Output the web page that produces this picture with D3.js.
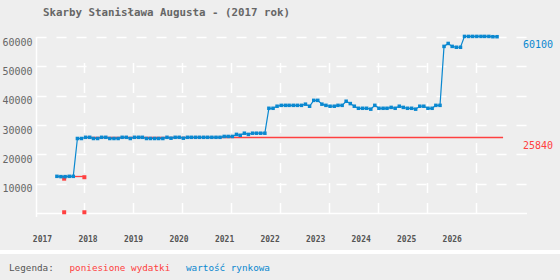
<!DOCTYPE html>
<html>
<head>
<meta charset="utf-8">
<script src="https://cdn.jsdelivr.net/npm/d3@7"></script>
<style>
  body { margin: 0; background: #eeeeee; }
  text { font-family: "DejaVu Sans Mono", monospace; }
</style>
</head>
<body>
<script>
var svg_width = 560;
var svg_height = 280;

var title = "Skarby Stanisława Augusta - (2017 rok)";

// monthly market value ("wartość rynkowa"), from June 2017
var valueStart = new Date(2017, 5, 10);
var marketValues = [
  12500, 12400, 12400, 12500, 12500,
  25400, 25400, 25800, 25800, 25400, 25400, 25800, 25800, 25400, 25400, 25400, 25800,
  25800, 25400, 25800, 25800, 25800, 25400, 25400, 25400, 25400, 25400, 25800,
  25500, 25800, 25800, 25500, 25800, 25800, 25800, 25800, 25800, 25800, 25800, 25800, 25800,
  26100, 26100, 26100, 26800, 26500, 27200, 26800, 27200, 27200, 27200, 27200,
  35700, 35700, 36400, 36700, 36700, 36700, 36700, 36700, 36700, 37100, 36400,
  38400, 38400, 37100, 36700, 36400, 36400, 36700, 36700, 38100, 37300, 36400,
  35700, 35700, 35700, 35400, 36700, 35700, 35700, 35700, 36000, 35700, 36400,
  36000, 35700, 35700, 35400, 36400, 36400, 35700, 35700, 36700, 36700,
  56800, 57800, 56800, 56500, 56500,
  60200, 60200, 60200, 60200, 60200, 60200, 60200, 60100, 60100
];

// expenses ("poniesione wydatki")
var costSteps = [
  [["2017-06-10", 12500], ["2018-01-01", 12500]],
  [["2018-01-01", 25840], ["2026-07-25", 25840]]
];
var costPoints = [["2017-08-03", 11700], ["2018-01-01", 12200], ["2017-08-03", 250], ["2018-01-01", 250]];
var costLabel = 25840;

var yTicks = [10000, 20000, 30000, 40000, 50000, 60000];
var years = [2017, 2018, 2019, 2020, 2021, 2022, 2023, 2024, 2025, 2026];

var blue = "#0a88d0";
var red = "#ff4040";

var parse = d3.timeParse("%Y-%m-%d");

var valueData = marketValues.map(function(v, i) {
  return { date: d3.timeMonth.offset(valueStart, i), value: v };
});

var svg = d3.select("body")
  .append("svg")
  .attr("width", svg_width)
  .attr("height", svg_height);

var x = d3.scaleTime()
  .domain([new Date(2017, 0, 1), new Date(2027, 0, 1)])
  .range([35.5, 524.5]);
var y = d3.scaleLinear().domain([0, 60000]).range([213, 37]);
var xLabel = d3.scalePoint().domain(years).range([42.5, 452.2]);

var gridRight = 527;
var vTop = y(60000) + 26;

// title
svg.append("text")
  .attr("x", 43).attr("y", 15.5)
  .style("font-size", "10.8px").style("font-weight", "bold")
  .attr("fill", "#666")
  .text(title);

// grid
svg.append("g").selectAll("line")
  .data(yTicks).enter().append("line")
  .attr("x1", 36.5).attr("x2", gridRight)
  .attr("y1", d => Math.round(y(d)) + 0.5).attr("y2", d => Math.round(y(d)) + 0.5)
  .attr("stroke", "#fff").attr("stroke-width", 1.5)
  .attr("stroke-dasharray", "10,10");

svg.append("g").selectAll("line")
  .data(years.slice(1)).enter().append("line")
  .attr("x1", d => Math.round(x(new Date(d, 0, 1))) + 0.5)
  .attr("x2", d => Math.round(x(new Date(d, 0, 1))) + 0.5)
  .attr("y1", vTop).attr("y2", y(0) + 4)
  .attr("stroke", "#fff").attr("stroke-width", 1.5)
  .attr("stroke-dasharray", "10,10");

// axes lines
svg.append("line")
  .attr("x1", 36.5).attr("x2", 36.5).attr("y1", y(60000)).attr("y2", y(0) + 4)
  .attr("stroke", "#fff").attr("stroke-width", 1.5);
svg.append("line")
  .attr("x1", 36.5).attr("x2", gridRight).attr("y1", y(0) + 0.5).attr("y2", y(0) + 0.5)
  .attr("stroke", "#fff").attr("stroke-width", 1.5);

// y tick labels
svg.append("g").selectAll("text")
  .data(yTicks).enter().append("text")
  .attr("x", 32.5).attr("y", d => y(d) + 8.5)
  .attr("text-anchor", "end")
  .style("font-size", "10px")
  .attr("fill", "#666")
  .text(d => d);

// x labels
svg.append("g").selectAll("text")
  .data(years).enter().append("text")
  .attr("x", d => xLabel(d)).attr("y", 241.5)
  .attr("text-anchor", "middle")
  .style("font-size", "8px").style("font-weight", "bold")
  .attr("fill", "#555")
  .text(d => d);

// expenses line
var costLine = d3.line()
  .x(d => x(parse(d[0])))
  .y(d => Math.round(y(d[1])) + 0.5);

svg.append("g").selectAll("path")
  .data(costSteps).enter().append("path")
  .attr("d", costLine)
  .attr("fill", "none")
  .attr("stroke", red).attr("stroke-width", 1.3);

svg.append("g").selectAll("rect")
  .data(costPoints).enter().append("rect")
  .attr("x", d => x(parse(d[0])) - 2)
  .attr("y", d => y(d[1]) - 2)
  .attr("width", 4).attr("height", 4)
  .attr("fill", red);

// market value line
var valueLine = d3.line()
  .x(d => x(d.date))
  .y(d => y(d.value));

svg.append("path")
  .datum(valueData)
  .attr("d", valueLine)
  .attr("fill", "none")
  .attr("stroke", blue).attr("stroke-width", 1.2);

svg.append("g").selectAll("rect")
  .data(valueData).enter().append("rect")
  .attr("x", d => x(d.date) - 1.75)
  .attr("y", d => y(d.value) - 1.75)
  .attr("width", 3.5).attr("height", 3.5)
  .attr("fill", blue);

// end labels
var last = marketValues[marketValues.length - 1];
svg.append("text")
  .attr("x", 553).attr("y", y(last) + 11.5)
  .attr("text-anchor", "end")
  .style("font-size", "10px")
  .attr("fill", blue)
  .text(last);

svg.append("text")
  .attr("x", 553).attr("y", y(costLabel) + 11.8)
  .attr("text-anchor", "end")
  .style("font-size", "10px")
  .attr("fill", red)
  .text(costLabel);

// legend
svg.append("rect")
  .attr("x", 0).attr("y", 250).attr("width", svg_width).attr("height", 4)
  .attr("fill", "#fff");

var legend = svg.append("g").style("font-size", "9.3px");
legend.append("text").attr("x", 9).attr("y", 270.5).attr("fill", "#555").text("Legenda:");
legend.append("text").attr("x", 69.5).attr("y", 270.5).attr("fill", red).text("poniesione wydatki");
legend.append("text").attr("x", 186).attr("y", 270.5).attr("fill", blue).text("wartość rynkowa");
</script>
</body>
</html>
